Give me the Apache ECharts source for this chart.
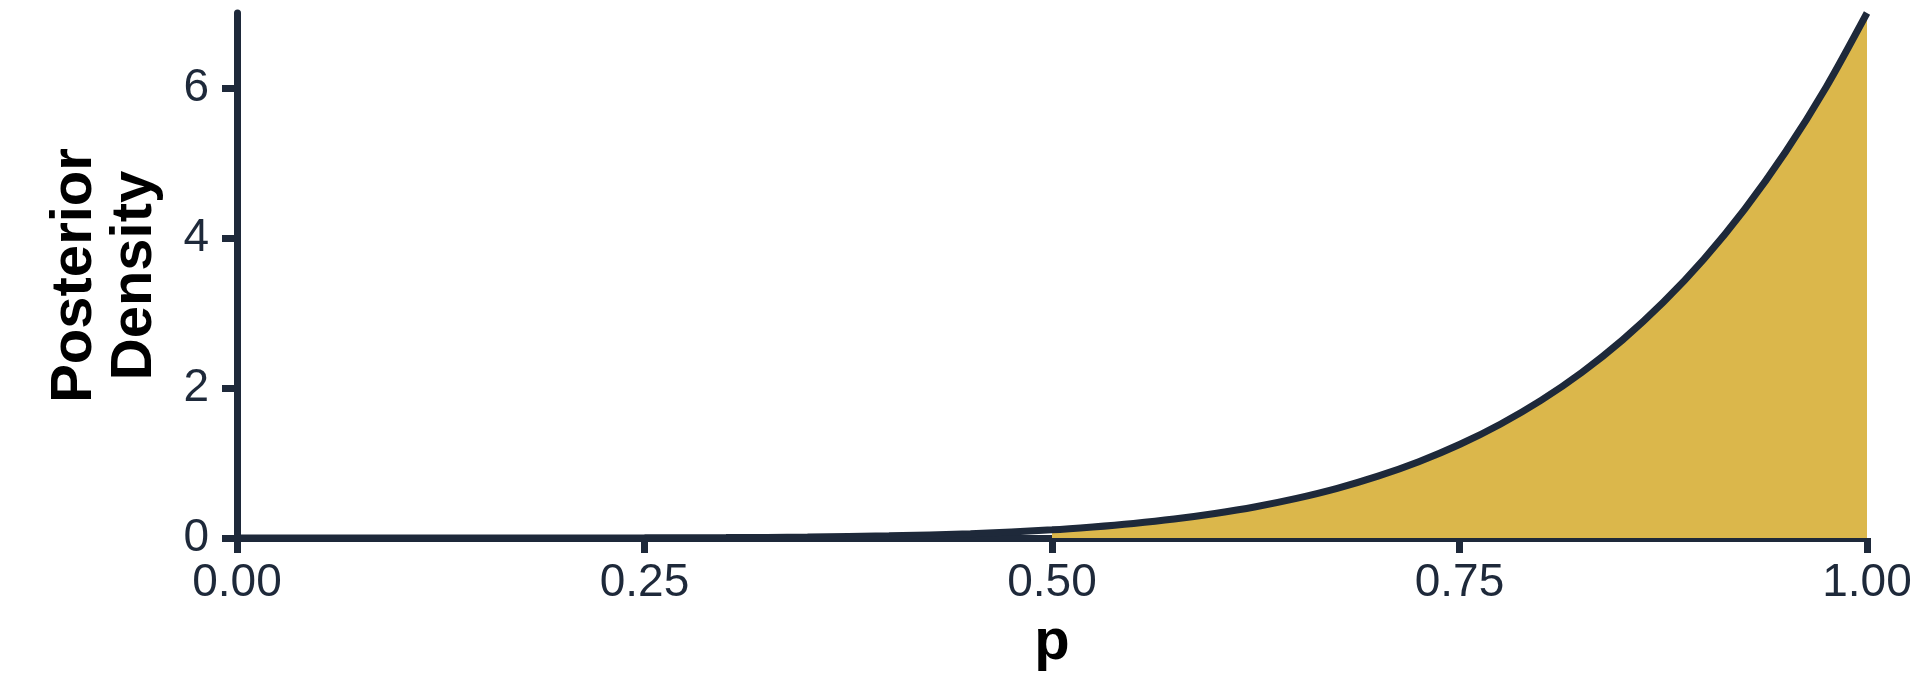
<!DOCTYPE html>
<html>
<head>
<meta charset="utf-8">
<title>Posterior Density</title>
<script src="https://cdn.jsdelivr.net/npm/echarts@6/dist/echarts.min.js"></script>
<style>
    html, body { margin: 0; padding: 0; background: #ffffff; }
    #demo { width: 1920px; height: 691px; }
</style>
</head>
<body>
<div id="demo"></div>
<script>
/**
 * 数据区
 */
// p 取值
var p_values = [0, 0.05, 0.10, 0.15, 0.20, 0.25, 0.30, 0.35, 0.40, 0.45,
    0.50, 0.525, 0.55, 0.575, 0.60, 0.625, 0.65, 0.675, 0.70, 0.725,
    0.75, 0.775, 0.80, 0.825, 0.85, 0.875, 0.90, 0.925, 0.95, 0.975, 1.00];
// 后验密度
var density_values = [0, 0, 0, 0.0001, 0.0004, 0.0017, 0.0051, 0.0129, 0.0287, 0.0581,
    0.109, 0.147, 0.194, 0.253, 0.327, 0.417, 0.528, 0.662, 0.824, 1.017,
    1.246, 1.517, 1.835, 2.207, 2.640, 3.142, 3.720, 4.385, 5.146, 6.014, 7.00];
// 阴影区域起点
var shade_from = 0.5;
// 坐标轴刻度
var x_ticks = [0, 0.25, 0.5, 0.75, 1];
var y_ticks = [0, 2, 4, 6];

/**
 * 初始化参数
 */
var basedata = {
    dom_id: 'demo',
    myChart: null,
    axis_color: '#1e293a',
    fill_color: '#dbb74b'
};

var init_application = function () {
    basedata.myChart = echarts.init(document.getElementById(basedata.dom_id));
    basedata.myChart.setOption(build_option());
};

/******************************************************* 函数区 ********************************************************/

var build_option = function () {
    var curve = [];
    var shade = [];
    for (var i = 0; i < p_values.length; i++) {
        curve.push([p_values[i], density_values[i]]);
        if (p_values[i] >= shade_from) {
            shade.push([p_values[i], density_values[i]]);
        }
    }
    var c = basedata.axis_color;
    return {
        animation: false,
        grid: { left: 237, right: 53, top: 13, bottom: 153 },
        xAxis: {
            type: 'value',
            min: 0,
            max: 1,
            interval: 0.25,
            name: 'p',
            nameLocation: 'middle',
            nameGap: 76,
            nameTextStyle: { fontFamily: 'Liberation Sans', fontWeight: 'bold', fontSize: 58, color: '#000000' },
            axisLine: { show: true, onZero: false, lineStyle: { color: c, width: 7, cap: 'butt' } },
            axisTick: { show: true, length: 15, customValues: x_ticks, lineStyle: { color: c, width: 7 } },
            axisLabel: {
                customValues: x_ticks,
                margin: 22,
                fontFamily: 'Liberation Sans',
                fontSize: 46,
                color: c,
                formatter: function (v) { return v.toFixed(2); }
            },
            splitLine: { show: false }
        },
        yAxis: {
            type: 'value',
            min: 0,
            max: 7,
            interval: 2,
            name: 'Posterior\nDensity',
            nameLocation: 'middle',
            nameRotate: 90,
            nameGap: 72,
            nameTextStyle: { fontFamily: 'Liberation Sans', fontWeight: 'bold', fontSize: 58, lineHeight: 60, color: '#000000' },
            axisLine: { show: true, lineStyle: { color: c, width: 7 } },
            axisTick: { show: true, length: 15, customValues: y_ticks, lineStyle: { color: c, width: 7 } },
            axisLabel: {
                customValues: y_ticks,
                margin: 28,
                fontFamily: 'Liberation Sans',
                fontSize: 46,
                color: c
            },
            splitLine: { show: false }
        },
        series: [
            {
                // 阴影
                type: 'line',
                data: shade,
                smooth: 0.3,
                showSymbol: false,
                lineStyle: { width: 0 },
                areaStyle: { color: basedata.fill_color, opacity: 1 },
                z: 1
            },
            {
                // 密度曲线
                type: 'line',
                data: curve,
                smooth: 0.3,
                showSymbol: false,
                lineStyle: { color: c, width: 7 },
                z: 3
            }
        ]
    };
};

init_application();
</script>
</body>
</html>
